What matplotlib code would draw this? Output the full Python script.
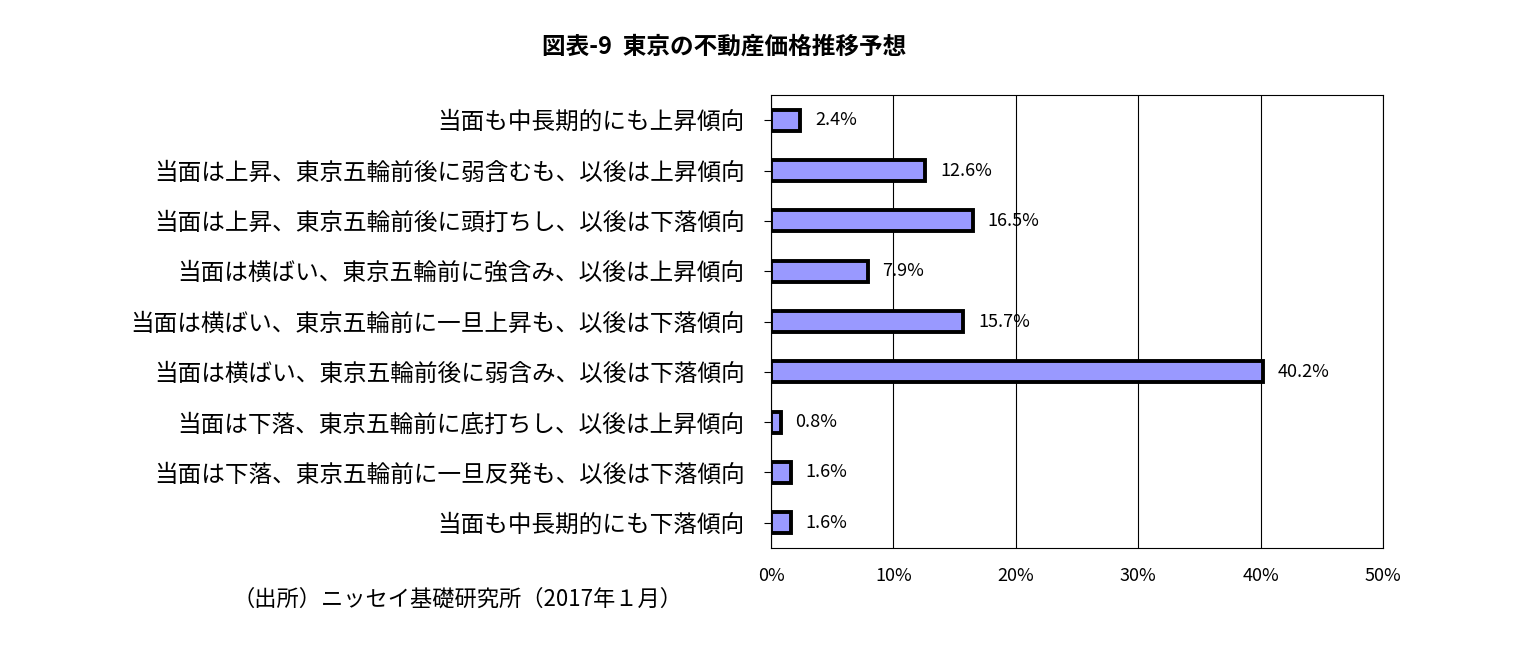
import matplotlib.pyplot as plt

plt.rcParams['font.family'] = 'Noto Sans CJK JP'

categories = [
    '当面も中長期的にも上昇傾向',
    '当面は上昇、東京五輪前後に弱含むも、以後は上昇傾向',
    '当面は上昇、東京五輪前後に頭打ちし、以後は下落傾向',
    '当面は横ばい、東京五輪前に強含み、以後は上昇傾向',
    '当面は横ばい、東京五輪前に一旦上昇も、以後は下落傾向',
    '当面は横ばい、東京五輪前後に弱含み、以後は下落傾向',
    '当面は下落、東京五輪前に底打ちし、以後は上昇傾向',
    '当面は下落、東京五輪前に一旦反発も、以後は下落傾向',
    '当面も中長期的にも下落傾向',
]
values = [2.4, 12.6, 16.5, 7.9, 15.7, 40.2, 0.8, 1.6, 1.6]
xticks = [0, 10, 20, 30, 40, 50]

fig = plt.figure(figsize=(15.25, 6.65), dpi=100)
ax = fig.add_axes([0.5056, 0.176, 0.4013, 0.681])

y = list(range(len(categories)))
ax.barh(y, values, height=0.42, color='#9999FF', edgecolor='black', linewidth=2.8, zorder=3)
for yi, v in zip(y, values):
    ax.text(v + 1.2, yi, f'{v}%', va='center', ha='left', fontsize=13, zorder=4)

ax.set_xlim(0, 50)
ax.set_ylim(len(categories) - 0.5, -0.5)
ax.set_yticks(y)
ax.set_yticklabels(categories, fontsize=17)
ax.set_xticks(xticks)
ax.set_xticklabels([f'{t}%' for t in xticks], fontsize=13)
ax.tick_params(axis='y', length=5, pad=14)
ax.tick_params(axis='x', length=0, pad=14)
ax.grid(axis='x', color='black', linewidth=0.8, zorder=0)
for s in ax.spines.values():
    s.set_linewidth(0.8)

fig.text(0.475, 0.92, '図表-9  東京の不動産価格推移予想', ha='center', fontsize=17, fontweight='bold')
fig.text(0.30, 0.09, '（出所）ニッセイ基礎研究所（2017年１月）', ha='center', fontsize=16)

fig.savefig('out.png', dpi=100)
